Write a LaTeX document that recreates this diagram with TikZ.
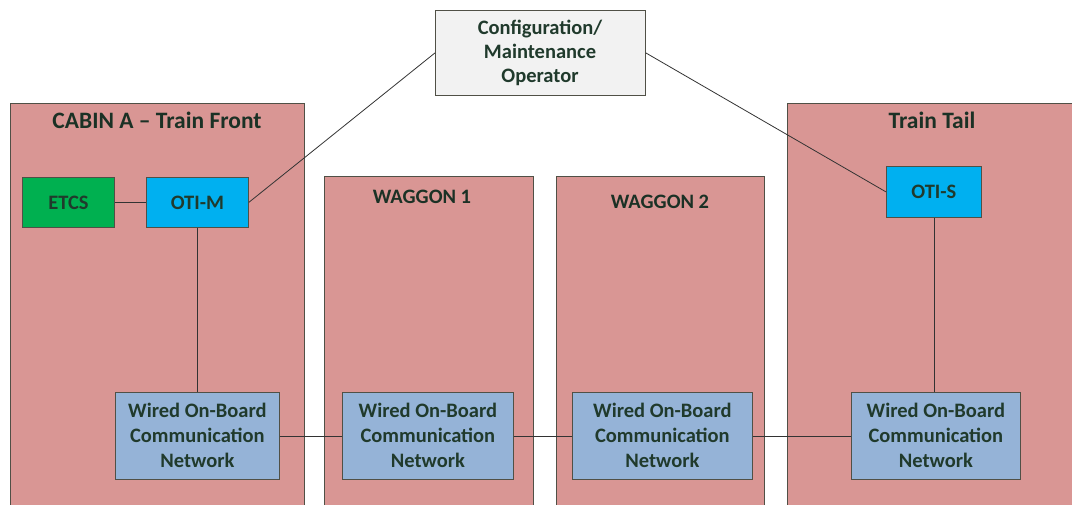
\documentclass[tikz,border=0pt]{standalone}
\usepackage{fontspec}
\setmainfont{Carlito}
\definecolor{carfill}{RGB}{217,150,148}
\definecolor{edge}{RGB}{80,80,70}
\definecolor{txt}{RGB}{32,58,44}
\definecolor{cfgfill}{RGB}{242,242,242}
\definecolor{etcsfill}{RGB}{0,176,80}
\definecolor{otifill}{RGB}{0,176,240}
\definecolor{netfill}{RGB}{149,179,215}
\begin{document}
\begin{tikzpicture}[x=1pt,y=-1pt,
  every node/.style={font=\bfseries\fontsize{20.5}{24}\selectfont, text=txt, align=center, inner sep=0pt},
  car/.style={draw=edge, line width=0.8pt, fill=carfill, anchor=north west},
  cartitle/.style={font=\bfseries\fontsize{23.5}{26}\selectfont, text=txt!85!black},
  unit/.style={draw=edge, line width=0.8pt, anchor=north west},
  link/.style={draw=black!80, line width=0.8pt}]
\useasboundingbox (0,0) rectangle (1072,505);
% carriages
\node[car, minimum width=294, minimum height=410] (cabin) at (10,103) {};
\node[car, minimum width=209, minimum height=336] (wag1) at (324,176) {};
\node[car, minimum width=208, minimum height=336] (wag2) at (556,176) {};
\node[car, minimum width=300, minimum height=410] (tail) at (787,103) {};
\node[cartitle] (cabint) at (157,120) {CABIN A -- Train Front};
\node[cartitle, font=\bfseries\fontsize{20.5}{24}\selectfont] (wag1t) at (422,197) {WAGGON 1};
\node[cartitle, font=\bfseries\fontsize{20.5}{24}\selectfont] (wag2t) at (660,202) {WAGGON 2};
\node[cartitle] (tailt) at (932,120) {Train Tail};
% devices
\node[unit, fill=cfgfill, minimum width=210, minimum height=85] (cfg) at (435,10) {};
\node (cfgt) at (540,53) {Configuration/\\Maintenance\\Operator};
\node[unit, fill=etcsfill, minimum width=92, minimum height=50] (etcs) at (22,177) {};
\node at (etcs.center) {ETCS};
\node[unit, fill=otifill, minimum width=102, minimum height=50] (otim) at (146,177) {};
\node at (otim.center) {OTI-M};
\node[unit, fill=otifill, minimum width=95, minimum height=51] (otis) at (886,166) {};
\node at (otis.center) {OTI-S};
% wired networks
\node[unit, fill=netfill, minimum width=164, minimum height=87] (net1) at (115,392) {};
\node[unit, fill=netfill, minimum width=171, minimum height=87] (net2) at (342,392) {};
\node[unit, fill=netfill, minimum width=180, minimum height=87] (net3) at (572,392) {};
\node[unit, fill=netfill, minimum width=169, minimum height=87] (net4) at (851,392) {};
\foreach \n in {net1,net2,net3,net4}
  \node[font=\bfseries\fontsize{20.5}{25}\selectfont] at ([yshift=1]\n.center) {Wired On-Board\\Communication\\Network};
% connections
\draw[link] (etcs.east) -- (otim.west);
\draw[link] (otim.east) -- (cfg.west);
\draw[link] (cfg.east) -- (otis.west);
\draw[link] (otim.south -| 197,0) -- (net1.north -| 197,0);
\draw[link] (otis.south -| 934,0) -- (net4.north -| 934,0);
\draw[link] (net1.east) -- (net2.west);
\draw[link] (net2.east) -- (net3.west);
\draw[link] (net3.east) -- (net4.west);
\end{tikzpicture}
\end{document}
